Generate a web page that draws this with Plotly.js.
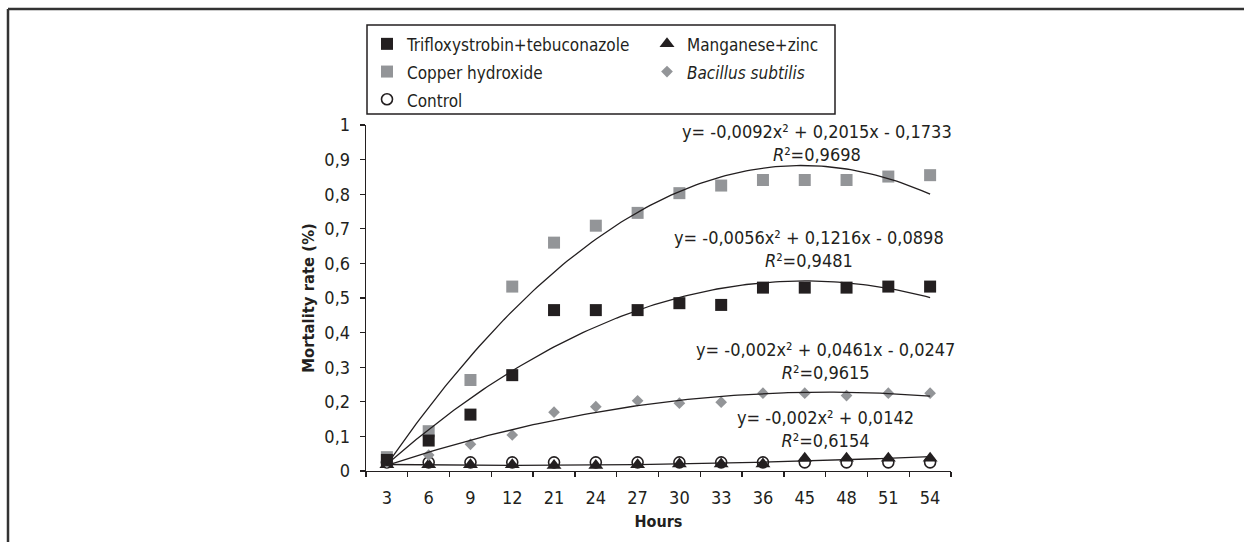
<!DOCTYPE html>
<html>
<head>
<meta charset="utf-8">
<script src="https://cdn.plot.ly/plotly-3.0.1.min.js"></script>
<style>
  html, body { margin: 0; padding: 0; background: #ffffff; }
  #chart { width: 1244px; height: 542px; }
</style>
</head>
<body>
<div id="chart"></div>
<script>
// ---- data ----
const hours = ['3','6','9','12','21','24','27','30','33','36','45','48','51','54'];
const yTickVals = [0,0.1,0.2,0.3,0.4,0.5,0.6,0.7,0.8,0.9,1];
const yTickText = ['0','0,1','0,2','0,3','0,4','0,5','0,6','0,7','0,8','0,9','1'];

const trifloxy  = [0.032,0.088,0.163,0.277,0.465,0.465,0.465,0.485,0.480,0.530,0.530,0.530,0.533,0.533];
const copper    = [0.040,0.115,0.263,0.533,0.660,0.709,0.746,0.803,0.825,0.841,0.841,0.841,0.851,0.855];
const bacillus  = [0.025,0.046,0.077,0.104,0.170,0.186,0.203,0.196,0.199,0.225,0.225,0.218,0.225,0.225];
const manganese = [0.018,0.018,0.018,0.018,0.016,0.016,0.018,0.020,0.020,0.020,0.037,0.037,0.037,0.037];
const control   = [0.025,0.025,0.025,0.025,0.025,0.025,0.025,0.025,0.025,0.025,0.025,0.025,0.025,0.025];

const seriesNames = ['Trifloxystrobin+tebuconazole','Manganese+zinc','Copper hydroxide','<i>Bacillus subtilis</i>','Control'];

const eqCopper    = 'y= -0,0092x² + 0,2015x - 0,1733<br><i>R</i>²=0,9698';
const eqTrifloxy  = 'y= -0,0056x² + 0,1216x - 0,0898<br><i>R</i>²=0,9481';
const eqBacillus  = 'y= -0,002x² + 0,0461x - 0,0247<br><i>R</i>²=0,9615';
const eqManganese = 'y= -0,002x² + 0,0142<br><i>R</i>²=0,6154';

// ---- helpers ----
const idx = hours.map((_, i) => i + 1);
const bounds = [0.5].concat(idx.map(i => i + 0.5));

function polyfit2(xs, ys) {
  // least squares quadratic fit (Excel-style polynomial trendline)
  let s = [0,0,0,0,0], t = [0,0,0];
  for (let k = 0; k < xs.length; k++) {
    const x = xs[k], y = ys[k];
    let p = 1;
    for (let j = 0; j < 5; j++) { s[j] += p; if (j < 3) t[j] += p * y; p *= x; }
  }
  const A = [[s[0],s[1],s[2],t[0]],[s[1],s[2],s[3],t[1]],[s[2],s[3],s[4],t[2]]];
  for (let i = 0; i < 3; i++) {
    for (let r = i + 1; r < 3; r++) {
      const f = A[r][i] / A[i][i];
      for (let c = i; c < 4; c++) A[r][c] -= f * A[i][c];
    }
  }
  const b = [0,0,0];
  for (let i = 2; i >= 0; i--) {
    let v = A[i][3];
    for (let c = i + 1; c < 3; c++) v -= A[i][c] * b[c];
    b[i] = v / A[i][i];
  }
  return b; // c0, c1, c2
}
function trend(ys) {
  const c = polyfit2(idx, ys);
  const xs = [], yv = [];
  for (let x = 1; x <= 14.0001; x += 0.1) { xs.push(x); yv.push(c[0] + c[1]*x + c[2]*x*x); }
  return {xs, yv};
}

// ---- geometry (pixels) ----
const W = 1244, H = 542;
const L = 366, R = 951, T = 125, B = 471;
const xp = px => (px - L) / (R - L);
const yp = py => (B - py) / (B - T);

const FONT = '"Liberation Sans Narrow", "Arial Narrow", "DejaVu Sans Condensed", sans-serif';
const DARK = '#231f20';
const GRAY = '#939598';
const lg = s => '<span style="font-size:17px">' + s + '</span>';

const traces = [];
traces.push({type:'scatter', mode:'markers', name: lg(seriesNames[4]), x: idx, y: control, legendrank: 5,
  marker:{symbol:'circle', size:11, color: '#ffffff', line:{width:1.6, color: DARK}}});
traces.push({type:'scatter', mode:'markers', name: lg(seriesNames[1]), x: idx, y: manganese, legendrank: 2, legendwidth: 140,
  marker:{symbol:'triangle-up', size:13, color: DARK}});
traces.push({type:'scatter', mode:'markers', name: lg(seriesNames[3]), x: idx, y: bacillus, legendrank: 4,
  marker:{symbol:'diamond', size:9, color: GRAY}});
traces.push({type:'scatter', mode:'markers', name: lg(seriesNames[2]), x: idx, y: copper, legendrank: 3,
  marker:{symbol:'square', size:12, color: GRAY}});
traces.push({type:'scatter', mode:'markers', name: lg(seriesNames[0]), x: idx, y: trifloxy, legendrank: 1, legendwidth: 235,
  marker:{symbol:'square', size:12, color: DARK}});

[copper, trifloxy, bacillus, manganese].forEach(s => {
  const t = trend(s);
  traces.push({type:'scatter', mode:'lines', x: t.xs, y: t.yv, showlegend:false, hoverinfo:'skip',
    line:{color: DARK, width:1.3}});
});

function eqAnn(text, cx, cy) {
  return {text, xref:'paper', yref:'paper', x: xp(cx), y: yp(cy), xanchor:'center', yanchor:'middle',
    showarrow:false, align:'center', font:{family: FONT, size:18, color: DARK}};
}

const layout = {
  width: W, height: H,
  margin: {l: L, r: W - R, t: T, b: H - B, pad: 0},
  paper_bgcolor: '#ffffff', plot_bgcolor: '#ffffff',
  font: {family: FONT, size: 18, color: DARK},
  showlegend: true,
  legend: {orientation:'h', x: xp(367), y: yp(25), xanchor:'left', yanchor:'top',
    bgcolor:'rgba(0,0,0,0)', borderwidth:0, font:{family: FONT, size:19, color: DARK},
    tracegroupgap: 0},
  xaxis: {range:[0.5, 14.5], tickmode:'array', tickvals: idx, ticktext: hours, ticks:'',
    showline:true, linecolor: DARK, linewidth:1.3, showgrid:false, zeroline:false,
    tickfont:{family: FONT, size:18, color: DARK}, ticklabelstandoff: 10,
    minor:{tickmode:'array', tickvals: bounds, ticks:'outside', ticklen:5, tickcolor: DARK, tickwidth:1.3, showgrid:false},
    title:{text:'<b>Hours</b>', font:{family: FONT, size:16, color: DARK}, standoff: 9}},
  yaxis: {range:[0, 1], tickmode:'array', tickvals: yTickVals, ticktext: yTickText, ticks:'outside', ticklen:5,
    tickcolor: DARK, tickwidth:1.3, showline:true, linecolor: DARK, linewidth:1.3, showgrid:false, zeroline:false,
    tickfont:{family: FONT, size:18, color: DARK}, ticklabelstandoff: 6,
    title:{text:'<b>Mortality rate (%)</b>', font:{family: FONT, size:16.5, color: DARK}, standoff: 5}},
  shapes: [
    {type:'rect', xref:'paper', yref:'paper', x0: xp(367), x1: xp(835), y0: yp(114), y1: yp(25),
      line:{color: DARK, width:1.5}, fillcolor:'rgba(0,0,0,0)'},
    {type:'line', xref:'paper', yref:'paper', x0: xp(8), x1: xp(1244), y0: yp(9), y1: yp(9),
      line:{color:'#333333', width:2.5}},
    {type:'line', xref:'paper', yref:'paper', x0: xp(8), x1: xp(8), y0: yp(9), y1: yp(542),
      line:{color:'#333333', width:2.5}}
  ],
  annotations: [
    eqAnn(eqCopper, 817, 143),
    eqAnn(eqTrifloxy, 809, 248.5),
    eqAnn(eqBacillus, 825, 361),
    eqAnn(eqManganese, 825, 428.5)
  ]
};

Plotly.newPlot('chart', traces, layout, {displayModeBar:false, staticPlot:true});
</script>
</body>
</html>
